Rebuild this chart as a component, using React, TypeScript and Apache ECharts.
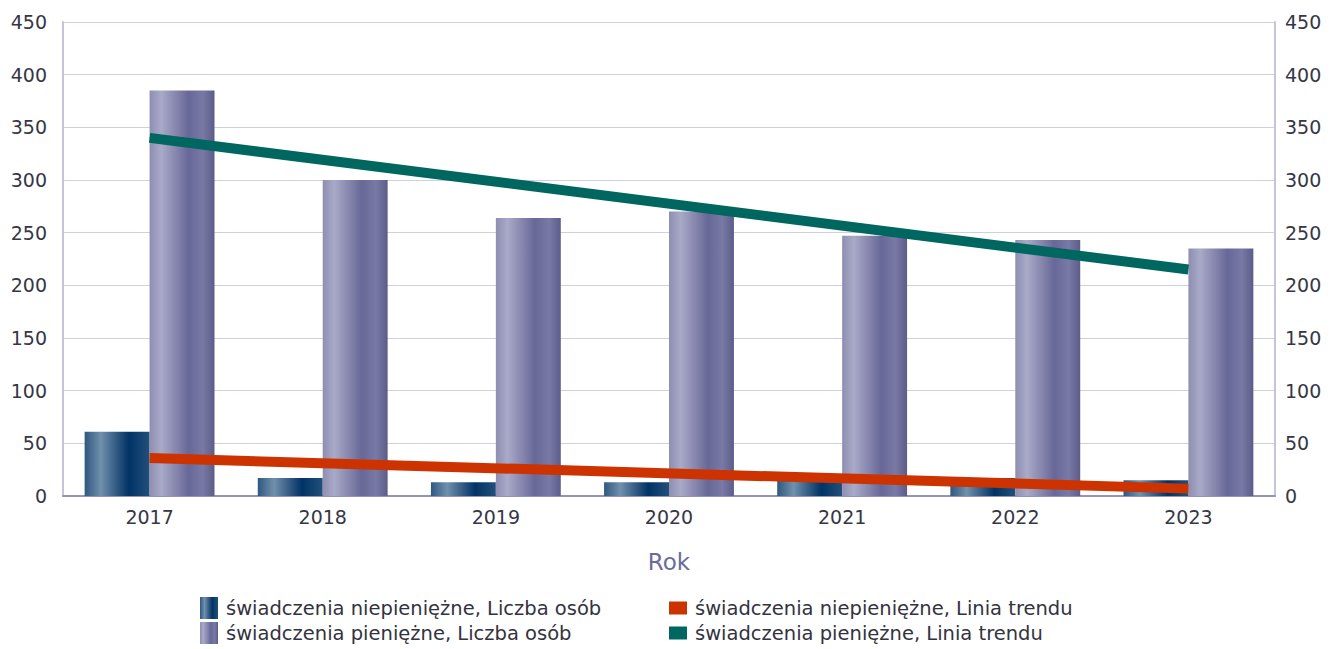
import React, { useEffect, useRef } from "react";
import * as echarts from "echarts";

const years = ["2017", "2018", "2019", "2020", "2021", "2022", "2023"];
const nonCash = [61, 17, 13, 13, 15, 17, 15];
const cash = [385, 300, 264, 270, 247, 243, 235];
const nonCashTrend = [36, null, null, null, null, null, 7];
const cashTrend = [340, null, null, null, null, null, 215];

const N1 = "świadczenia niepieniężne, Liczba osób";
const N2 = "świadczenia pieniężne, Liczba osób";
const N3 = "świadczenia niepieniężne, Linia trendu";
const N4 = "świadczenia pieniężne, Linia trendu";

const FONT = "DejaVu Sans";

export default function App() {
  const ref = useRef<HTMLDivElement>(null);
  useEffect(() => {
    if (!ref.current) return;
    const chart = echarts.init(ref.current, null, { renderer: "svg" });
    const darkGrad = new echarts.graphic.LinearGradient(0, 0, 1, 0, [
      { offset: 0, color: "#2f5880" },
      { offset: 0.25, color: "#7090ad" },
      { offset: 0.45, color: "#3d6389" },
      { offset: 0.68, color: "#003366" },
      { offset: 1, color: "#23507a" },
    ]);
    const lightGrad = new echarts.graphic.LinearGradient(0, 0, 1, 0, [
      { offset: 0, color: "#8e8eb2" },
      { offset: 0.18, color: "#a9a9c8" },
      { offset: 0.6, color: "#686898" },
      { offset: 0.82, color: "#7979a6" },
      { offset: 1, color: "#5c5c88" },
    ]);
    const axisLabel = { color: "#363646", fontSize: 19, fontFamily: FONT };
    chart.setOption({
      animation: false,
      textStyle: { fontFamily: FONT },
      grid: { left: 63, right: 62, top: 22, bottom: 153 },
      legend: [
        {
          orient: "vertical",
          left: 200,
          top: 597,
          padding: 0,
          itemWidth: 18,
          itemHeight: 22,
          itemGap: 3,
          icon: "rect",
          data: [N1, N2],
          textStyle: { color: "#333340", fontSize: 19.5, fontFamily: FONT, padding: [0, 0, 0, 3] },
        },
        {
          orient: "vertical",
          left: 669,
          top: 597,
          padding: 0,
          itemWidth: 18,
          itemHeight: 13,
          itemGap: 3,
          icon: "rect",
          data: [N3, N4],
          textStyle: { color: "#333340", fontSize: 19.5, fontFamily: FONT, lineHeight: 22, padding: [0, 0, 0, 3] },
        },
      ],
      xAxis: {
        type: "category",
        data: years,
        name: "Rok",
        nameLocation: "middle",
        nameGap: 54,
        nameTextStyle: { color: "#6b6b9b", fontSize: 23, fontFamily: FONT },
        axisLine: { lineStyle: { color: "#9494b8", width: 2 } },
        axisTick: { show: false },
        axisLabel: { ...axisLabel, margin: 11 },
      },
      yAxis: [
        {
          type: "value",
          min: 0,
          max: 450,
          interval: 50,
          axisLine: { show: true, lineStyle: { color: "#c4c4da", width: 2 } },
          axisTick: { show: false },
          splitLine: { lineStyle: { color: "#cfcfe0", width: 1 } },
          axisLabel: { ...axisLabel, margin: 16 },
        },
        {
          type: "value",
          min: 0,
          max: 450,
          interval: 50,
          position: "right",
          axisLine: { show: true, lineStyle: { color: "#c4c4da", width: 2 } },
          axisTick: { show: false },
          splitLine: { show: false },
          axisLabel: { ...axisLabel, margin: 10 },
        },
      ],
      series: [
        {
          name: N1,
          type: "bar",
          data: nonCash,
          barGap: "0%",
          barCategoryGap: "25%",
          itemStyle: { color: darkGrad },
        },
        {
          name: N2,
          type: "bar",
          data: cash,
          barGap: "0%",
          barCategoryGap: "25%",
          itemStyle: { color: lightGrad },
        },
        {
          name: N3,
          type: "line",
          data: nonCashTrend,
          connectNulls: true,
          symbol: "none",
          lineStyle: { color: "#cc3300", width: 10 },
          itemStyle: { color: "#cc3300" },
          z: 5,
        },
        {
          name: N4,
          type: "line",
          data: cashTrend,
          connectNulls: true,
          symbol: "none",
          lineStyle: { color: "#006660", width: 10 },
          itemStyle: { color: "#006660" },
          z: 5,
        },
      ],
    });
    return () => chart.dispose();
  }, []);
  return <div ref={ref} style={{ width: 1337, height: 649, position: "absolute", left: 0, top: 0 }} />;
}
